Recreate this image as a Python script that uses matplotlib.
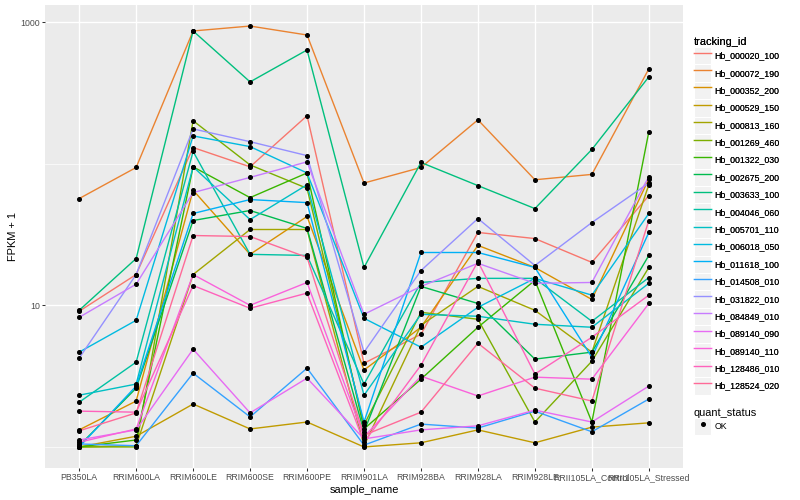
#!/usr/bin/env python3
# plot.py - FPKM + 1 per sample for each tracking id (ggplot-style line chart)

import numpy as np
import matplotlib

matplotlib.use("Agg")
import matplotlib.pyplot as plt
from matplotlib.lines import Line2D
from matplotlib.patches import Rectangle
from matplotlib.legend_handler import HandlerTuple

samples = [
    "PB350LA", "RRIM600LA", "RRIM600LE", "RRIM600SE", "RRIM600PE", "RRIM901LA",
    "RRIM928BA", "RRIM928LA", "RRIM928LE", "RRII105LA_Control", "RRII105LA_Stressed",
]

tracking_ids = [
    "Hb_000020_100", "Hb_000072_190", "Hb_000352_200", "Hb_000529_150",
    "Hb_000813_160", "Hb_001269_460", "Hb_001322_030", "Hb_002675_200",
    "Hb_003633_100", "Hb_004046_060", "Hb_005701_110", "Hb_006018_050",
    "Hb_011618_100", "Hb_014508_010", "Hb_031822_010", "Hb_084849_010",
    "Hb_089140_090", "Hb_089140_110", "Hb_128486_010", "Hb_128524_020",
]

# FPKM + 1, one value per sample
hb_000020_100 = [9.08, 16.5, 130, 95, 218, 3.90, 6.25, 32.7, 29.6, 20.1, 59.5]
hb_000072_190 = [56.7, 94, 865, 937, 810, 73, 94, 204, 77, 84, 467]
hb_000352_200 = [1.32, 2.11, 65, 22.9, 42.4, 3.49, 7.00, 26.5, 18.5, 11.0, 78]
hb_000529_150 = [1.0, 1.19, 2.01, 1.34, 1.50, 1.0, 1.07, 1.32, 1.07, 1.38, 1.48]
hb_000813_160 = [1.0, 1.02, 16.5, 34.3, 34.3, 1.02, 7.23, 13.6, 9.22, 4.67, 71]
hb_001269_460 = [1.0, 1.0, 201, 98, 67, 1.43, 8.93, 7.97, 1.50, 4.03, 18.5]
hb_001322_030 = [1.0, 1.12, 95, 57.6, 86, 1.34, 3.01, 7.00, 15.0, 1.50, 168]
hb_002675_200 = [1.02, 2.60, 39.7, 46.7, 34.9, 1.28, 13.6, 10.3, 4.17, 4.67, 22.5]
hb_003633_100 = [9.22, 21.4, 865, 378, 635, 18.5, 102, 70, 48.2, 126, 410]
hb_004046_060 = [2.07, 3.97, 122, 22.9, 22.5, 2.78, 14.5, 15.5, 15.5, 7.71, 15.7]
hb_005701_110 = [2.32, 2.78, 95, 40.3, 71, 2.32, 8.64, 8.37, 7.35, 7.00, 14.3]
hb_006018_050 = [4.67, 7.84, 157, 132, 86, 8.10, 5.06, 9.68, 15.5, 11.8, 44.5]
hb_011618_100 = [1.0, 2.69, 44.5, 55.8, 53.1, 1.50, 23.6, 23.6, 18.5, 4.30, 32.7]
hb_014508_010 = [1.05, 1.02, 3.32, 1.63, 3.60, 1.03, 1.45, 1.36, 1.79, 1.28, 2.18]
hb_031822_010 = [4.24, 16.5, 176, 143, 114, 4.67, 17.6, 41.0, 19.1, 38.4, 73]
hb_084849_010 = [8.23, 14.1, 62.5, 80, 103, 8.64, 13.6, 19.8, 14.3, 14.5, 81]
hb_089140_090 = [1.12, 1.32, 4.90, 1.74, 3.06, 1.14, 1.32, 1.41, 1.82, 1.50, 2.69]
hb_089140_110 = [1.08, 1.34, 16.5, 10.0, 14.5, 1.18, 3.16, 2.29, 3.11, 3.01, 10.3]
hb_128486_010 = [1.79, 1.76, 13.8, 9.53, 12.2, 1.08, 3.78, 20.4, 3.27, 5.95, 11.8]
hb_128524_020 = [1.30, 1.74, 31.1, 30.6, 21.8, 1.21, 1.76, 5.40, 2.60, 2.11, 39.7]

series = [
    hb_000020_100, hb_000072_190, hb_000352_200, hb_000529_150, hb_000813_160,
    hb_001269_460, hb_001322_030, hb_002675_200, hb_003633_100, hb_004046_060,
    hb_005701_110, hb_006018_050, hb_011618_100, hb_014508_010, hb_031822_010,
    hb_084849_010, hb_089140_090, hb_089140_110, hb_128486_010, hb_128524_020,
]

quant_status = ["OK"]


def hcl_hex(h, c=100.0, l=65.0):
    """Convert polar LUV (R's hcl) to an sRGB hex string."""
    hr = np.deg2rad(h)
    u, v = c * np.cos(hr), c * np.sin(hr)
    xn, yn, zn = 95.047, 100.0, 108.883
    y = yn * ((l + 16) / 116) ** 3
    den = xn + 15 * yn + 3 * zn
    up = u / (13 * l) + 4 * xn / den
    vp = v / (13 * l) + 9 * yn / den
    x = 9 * y * up / (4 * vp)
    z = -x / 3 - 5 * y + 3 * y / vp
    x, y, z = x / 100, y / 100, z / 100
    rgb = [
        3.240479 * x - 1.537150 * y - 0.498535 * z,
        -0.969256 * x + 1.875992 * y + 0.041556 * z,
        0.055648 * x - 0.204043 * y + 1.057311 * z,
    ]
    out = []
    for t in rgb:
        t = 1.055 * t ** (1 / 2.4) - 0.055 if t > 0.00304 else 12.92 * t
        out.append(min(max(t, 0.0), 1.0))
    return matplotlib.colors.to_hex(out)


n = len(tracking_ids)
hues = np.linspace(15, 375, n + 1)[:-1]
colors = [hcl_hex(h) for h in hues]

plt.rcParams["font.family"] = ["Liberation Sans", "DejaVu Sans"]

fig = plt.figure(figsize=(8, 5), dpi=100)
ax = fig.add_axes([45 / 800, 32 / 500, 638 / 800, 463 / 500])
ax.set_facecolor("#EBEBEB")
for s in ax.spines.values():
    s.set_visible(False)

x = np.arange(len(samples))
for vals, col in zip(series, colors):
    ax.plot(x, vals, color=col, lw=1.0, zorder=2)
for vals in series:
    ax.plot(x, vals, ls="", marker="o", ms=2.6, color="black", zorder=3)

ax.set_yscale("log")
all_vals = np.concatenate([np.asarray(v, dtype=float) for v in series])
lo, hi = np.log10(all_vals.min()), np.log10(all_vals.max())
pad = 0.05 * (hi - lo)
ax.set_ylim(10 ** (lo - pad), 10 ** (hi + pad))
ax.set_xlim(-0.6, len(samples) - 0.4)

ax.set_yticks([10, 1000])
ax.set_yticklabels(["10", "1000"])
ax.set_yticks([1, 100], minor=True)
ax.set_yticklabels([], minor=True)
ax.set_xticks(x)
ax.set_xticklabels(samples)

ax.set_axisbelow(True)
ax.grid(which="major", color="white", lw=1.0)
ax.grid(which="minor", axis="y", color="white", lw=0.5)
ax.tick_params(which="major", color="#333333", length=2.0, width=0.75,
               labelsize=6.3, labelcolor="#4D4D4D", pad=1.5)
ax.tick_params(which="minor", length=0)

ax.set_xlabel("sample_name", fontsize=7.9, labelpad=2)
ax.set_ylabel("FPKM + 1", fontsize=7.9, labelpad=2)

key_bg = dict(facecolor="#F2F2F2", edgecolor="white", lw=0.8)
legend_style = dict(
    loc="upper left", frameon=False, fontsize=6.3, title_fontsize=7.9,
    handlelength=1.95, handleheight=2.68, labelspacing=0.0,
    handletextpad=0.4, borderpad=0, borderaxespad=0, alignment="left",
    handler_map={tuple: HandlerTuple(ndivide=1, pad=0)},
)

handles = [(Rectangle((0, 0), 1, 1, **key_bg), Line2D([], [], color=c, lw=1.0))
           for c in colors]
leg1 = fig.legend(handles, tracking_ids, title="tracking_id",
                  bbox_to_anchor=(694 / 800, 1 - 37 / 500), **legend_style)

ok_handles = [(Rectangle((0, 0), 1, 1, **key_bg),
               Line2D([], [], ls="", marker="o", ms=2.6, color="black"))]
leg2 = fig.legend(ok_handles, quant_status, title="quant_status",
                  bbox_to_anchor=(694 / 800, 1 - 408 / 500), **legend_style)
fig.add_artist(leg1)

fig.savefig("out.png", dpi=100)
plt.close(fig)
